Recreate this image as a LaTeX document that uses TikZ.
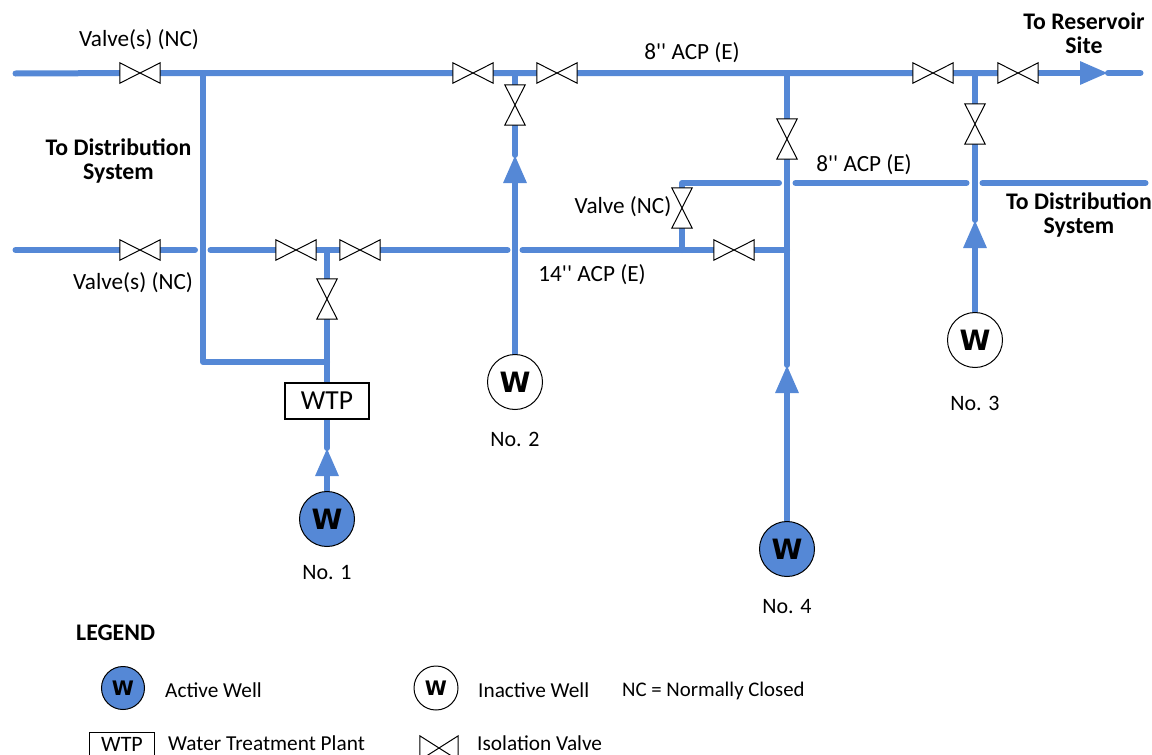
\documentclass[tikz,border=0pt]{standalone}
\usepackage{fontspec}
\setmainfont{Carlito}
\newfontfamily\wellfont{DejaVu Sans}
\newfontfamily\primefont{Carlito}
\usetikzlibrary{arrows.meta,positioning,backgrounds}
\definecolor{pipeblue}{HTML}{5588D6}
\newcommand{\diagfont}{\fontsize{23.2}{23.5}\selectfont}
\newcommand{\legfont}{\fontsize{21.3}{23.5}\selectfont}
\tikzset{
  every picture/.append style={font=\diagfont},
  pipe/.style    = {draw=pipeblue, line width=6pt, line cap=round},
  flow/.style    = {pipe, -{Triangle[length=28pt,width=22pt]}},
  vlvh/.style    = {minimum width=40pt, minimum height=20pt, inner sep=0pt},
  vlvv/.style    = {minimum width=20pt, minimum height=40pt, inner sep=0pt},
  vlvtie/.style  = {draw=black, fill=white, line width=1pt, line join=miter},
  wellbase/.style= {circle, draw=black, line width=1pt, minimum size=55pt,
                    inner sep=0pt, font=\wellfont\fontsize{28}{28}\selectfont\bfseries},
  wellon/.style  = {wellbase, fill=pipeblue},
  welloff/.style = {wellbase, fill=white},
  legw/.style    = {font=\wellfont\fontsize{20}{20}\selectfont\bfseries},
  wtpbox/.style  = {draw=black, line width=1.3pt, fill=white, minimum width=84pt,
                    minimum height=36pt, inner sep=0pt, font=\fontsize{27.5}{27.5}\selectfont},
  lab/.style     = {inner sep=0pt, align=center},
  nolab/.style   = {lab, font=\fontsize{22}{23.5}\selectfont},
  blab/.style    = {lab, font=\fontsize{23.8}{23.5}\selectfont\bfseries},
  leglab/.style  = {inner sep=0pt, anchor=west, font=\legfont},
}
\begin{document}
\begin{tikzpicture}[x=1pt, y=-1pt]
    \useasboundingbox (0,0) rectangle (1152,755);
    % valves
    \foreach \nm/\px/\py in {vtop1/140/73, vtop2/473/73, vtop3/557/73, vtop4/933/73,
                             vtop5/1018/73, vlow1/140/250, vlow2/296/250, vlow3/360/250,
                             vlow4/734/250}{%
      \node[vlvh] (\nm) at (\px,\py) {};
      \draw[vlvtie] (\nm.north west) -- (\nm.south east) -- (\nm.north east)
        -- (\nm.south west) -- cycle;}
    \foreach \nm/\px/\py in {vup1/327/299, vup2/515/105, vup3/787/139, vup4/975/124,
                             vup5/682/208}{%
      \node[vlvv] (\nm) at (\px,\py) {};
      \draw[vlvtie] (\nm.north west) -- (\nm.north east) -- (\nm.south west)
        -- (\nm.south east) -- cycle;}
    % wells and plant
    \node[wellon]  (well1) at (327,519) {W};
    \node[welloff] (well2) at (515,382) {W};
    \node[welloff] (well3) at (975,340) {W};
    \node[wellon]  (well4) at (787,549) {W};
    \node[wtpbox]  (wtp)   at (327,401) {WTP};
    % pipe ends and junctions
    \foreach \nm/\px/\py in {topL/15.5/73.5, topR/1140.5/73, j1/203/73, j2/515/73, j3/787/73,
                             j4/975/73, lowL/15.5/250, gapA/195/250, gapB/210.5/250,
                             j5/327/250, gapC/507.5/250, gapD/522.5/250, j6/682/250,
                             j7/787/250, bend1/203/362, j8/327/362, bend2/682/183,
                             gapE/779/183, gapF/795.5/183, gapG/966.5/183, gapH/982.5/183,
                             midR/1145.5/183, tip1/327/448, tip2/515/155, tip3/787/365,
                             tip4/975/220, tip5/1108/73}{%
      \coordinate (\nm) at (\px,\py);}
    \begin{scope}[on background layer]
      \draw[pipe] (topL) -- (vtop1) -- (j1) -- (vtop2) -- (j2) -- (vtop3) -- (j3)
        -- (vtop4) -- (j4) -- (vtop5);
      \draw[flow] (vtop5) -- (tip5);
      \draw[pipe] (tip5) -- (topR);
      \draw[pipe] (lowL) -- (vlow1) -- (gapA);
      \draw[pipe] (gapB) -- (vlow2) -- (j5) -- (vlow3) -- (gapC);
      \draw[pipe] (gapD) -- (j6) -- (vlow4) -- (j7);
      \draw[pipe, line join=round] (j1) -- (bend1) -- (j8);
      \draw[pipe] (j5) -- (vup1) -- (j8) -- (wtp);
      \draw[flow] (well1) -- (tip1);
      \draw[pipe] (tip1) -- (wtp);
      \draw[flow] (well2) -- (tip2);
      \draw[pipe] (tip2) -- (vup2) -- (j2);
      \draw[flow] (well4) -- (tip3);
      \draw[pipe] (tip3) -- (j7) -- (vup3) -- (j3);
      \draw[flow] (well3) -- (tip4);
      \draw[pipe] (tip4) -- (vup4) -- (j4);
      \draw[pipe] (j6) -- (vup5);
      \draw[pipe, line join=round] (vup5) -- (bend2) -- (gapE);
      \draw[pipe] (gapF) -- (gapG);
      \draw[pipe] (gapH) -- (midR);
    \end{scope}
    % labels
    \node[lab]  (valveA) at (139,40)  {Valve(s) (NC)};
    \node[lab]  (valveB) at (133,283) {Valve(s) (NC)};
    \node[lab]  (valveC) at (623,207) {Valve (NC)};
    \node[lab]  (acpA)   at (692,53)  {\primefont 8'' ACP (E)};
    \node[lab]  (acpB)   at (864,165) {\primefont 8'' ACP (E)};
    \node[lab]  (acpC)   at (592,275) {\primefont 14'' ACP (E)};
    \node[blab] (distL)  at (118.5,161) {To Distribution\\System};
    \node[blab] (distR)  at (1079,215)  {To Distribution\\System};
    \node[blab] (resv)   at (1084,33)   {To Reservoir\\Site};
    \node[nolab] (no1)   at (327,573) {No. 1};
    \node[nolab] (no2)   at (515,439) {No. 2};
    \node[nolab] (no3)   at (975,403) {No. 3};
    \node[nolab] (no4)   at (787,607) {No. 4};
    % legend
    \node[blab, anchor=west] (legtitle) at (76,633) {LEGEND};
    \node[wellon, legw, minimum size=43pt]  (legon)  at (123,688) {W};
    \node[welloff, legw, minimum size=44pt] (legoff) at (436,688) {W};
    \node[leglab] (legonT)  at (165,690) {Active Well};
    \node[leglab] (legoffT) at (478,690) {Inactive Well};
    \node[leglab, font=\fontsize{20.8}{23.5}\selectfont] (legnc) at (622,691) {NC = Normally Closed};
    \node[wtpbox, minimum width=65pt, minimum height=24pt, font=\fontsize{22}{22}\selectfont] (legwtp) at (122,744.5) {WTP};
    \node[leglab] (legwtpT) at (168,743.5) {Water Treatment Plant};
    \node[vlvh, minimum width=38pt, minimum height=24pt] (legvlv) at (439,748) {};
    \draw[vlvtie] (legvlv.north west) -- (legvlv.south east) -- (legvlv.north east)
      -- (legvlv.south west) -- cycle;
    \node[leglab] (legvlvT) at (477,743) {Isolation Valve};
  \end{tikzpicture}
\end{document}
